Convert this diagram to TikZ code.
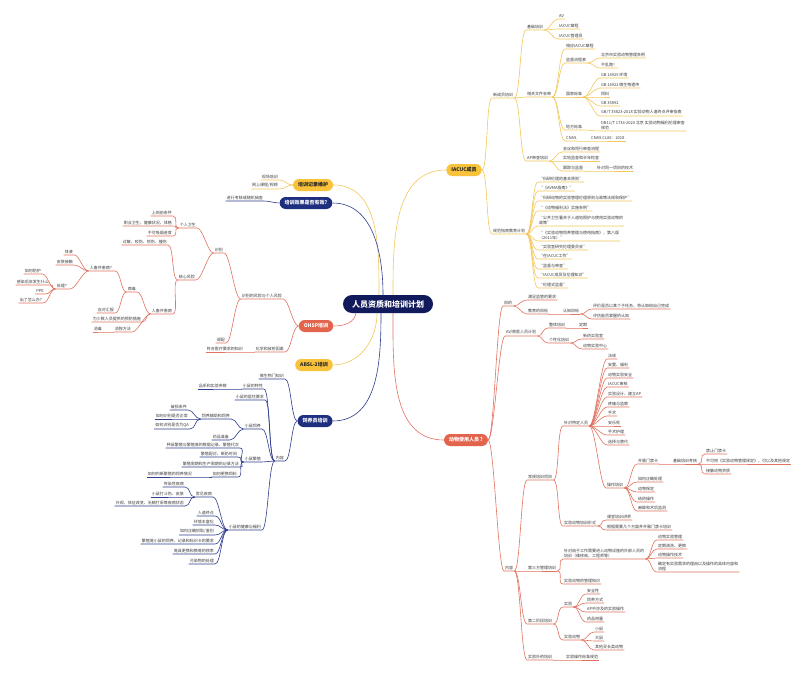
\documentclass[tikz,border=0pt]{standalone}
\usepackage{fontspec}
\setmainfont{Noto Sans CJK SC}
\definecolor{ylwfill}{HTML}{F8C23A}
\definecolor{ylwline}{HTML}{F4C85A}
\definecolor{navyfill}{HTML}{1F2F80}
\definecolor{navyline}{HTML}{2E3D8E}
\definecolor{rootfill}{HTML}{111A5A}
\definecolor{redfill}{HTML}{E3644D}
\definecolor{redline}{HTML}{E0725F}
\definecolor{txt}{HTML}{3A3A3A}
\tikzset{
  leaf/.style={font=\fontsize{4}{4.6}\selectfont, text=txt, inner xsep=1pt, inner ysep=1.2pt, align=left},
  R/.style={leaf, anchor=south west},
  L/.style={leaf, anchor=south east, align=right},
  pill/.style={rounded corners=6pt, inner xsep=5pt, minimum height=12pt, font=\fontsize{5}{6}\selectfont\bfseries},
  ypill/.style={pill, fill=ylwfill, text=black!85},
  npill/.style={pill, fill=navyfill, text=white},
  rpill/.style={pill, fill=redfill, text=white},
  rootnode/.style={rounded corners=9pt, fill=rootfill, text=white, minimum height=18pt, inner xsep=9pt, font=\fontsize{8}{9}\selectfont\bfseries},
  rb/.style={out=0, in=180, distance=6pt},
  lb/.style={out=180, in=0, distance=6pt},
  yl/.style={ylwline, line width=.6pt},
  nl/.style={navyline, line width=.6pt},
  rl/.style={redline, line width=.6pt},
}
\begin{document}
\begin{tikzpicture}[x=1pt, y=1pt]
  \fill[white] (0,0) rectangle (800,-677);
  \useasboundingbox (0,0) rectangle (800,-677);

  \node (root) at (388,-304) [rootnode] {人员资质和培训计划};

  % IACUC
  \node (iacuc) at (464,-170) [ypill] {IACUC成员};
  \node (xcy) at (492,-98) [R] {新成员培训};
  \node (jc) at (526,-30) [R] {基础培训};
  \node (av) at (558,-19) [R] {AV};
  \node (zc) at (558,-29) [R] {IACUC章程};
  \node (gly) at (558,-39) [R] {IACUC管理员};
  \node (wj) at (526,-97) [R] {相关文件会审};
  \node (xyzc) at (565,-49) [R] {相应IACUC章程};
  \node (lcb) at (565,-63) [R] {监督流程表};
  \node (bjtl) at (600,-58) [R] {北京市实验动物管理条例};
  \node (blp) at (600,-68) [R] {不乱跑！};
  \node (gjbz) at (565,-97) [R] {国家标准};
  \node (gba) at (600,-78) [R] {GB 14925 环境};
  \node (gbb) at (600,-88) [R] {GB 14922 微生物遗传};
  \node (sl) at (600,-97) [R] {饲料};
  \node (gbc) at (600,-106) [R] {GB 35892};
  \node (gbd) at (600,-116) [R] {GB/T 35823-2018 实验动物人道终点评审指南};
  \node (dfbz) at (565,-130) [R] {地方标准};
  \node (dbbz) at (600,-131) [R] {DB11/T 1734-2020 北京 实验动物福利伦理审查\\规范};
  \node (cnas) at (565,-141) [R] {CNAS};
  \node (cncl) at (590,-141) [R] {CNAS CL06：2018};
  \node (ap) at (526,-161) [R] {AP审查培训};
  \node (hysc) at (562,-152) [R] {会议和同行审查流程};
  \node (sdjc) at (562,-161) [R] {实地监查和半年检查};
  \node (gzjd) at (562,-171) [R] {跟踪与监督};
  \node (zdjs) at (596,-171) [R] {针对同一项目的技术};
  \node (gf) at (492,-234) [R] {规范指南教育计划};
  \node (ga) at (538,-182) [R] {“科研伦理的基本原则”};
  \node (gb) at (538,-191) [R] {“《AVMA指南》”};
  \node (gc) at (538,-201) [R] {“科研动物的实验管理伦理原则与政策法规和保护”};
  \node (gd) at (538,-211) [R] {“《动物福利法》实施条例”};
  \node (ge) at (538,-226) [R] {“公共卫生署关于人道地照护与使用实验动物的\\政策”};
  \node (gg) at (538,-241) [R] {“《实验动物饲养管理与使用指南》，第八版\\（2011年）”};
  \node (gh) at (538,-250) [R] {“实验室研究伦理委员会”};
  \node (gi) at (538,-259) [R] {“在IACUC工作”};
  \node (gj) at (538,-269) [R] {“监督与审查”};
  \node (gk) at (538,-278) [R] {“IACUC成员及伦理知识”};
  \node (gl) at (538,-288) [R] {“伦理式监督”};

  % animal users
  \node (dw) at (466,-440) [rpill] {动物使用人员 ?};
  \node (md) at (503,-306) [R] {目的};
  \node (jgyq) at (527,-300) [R] {满足监管的要求};
  \node (jymb) at (527,-314) [R] {教育的目标};
  \node (rzmb) at (562,-314) [R] {认知目标};
  \node (rza) at (592,-309) [R] {评价是否以某个子任务，将认知给自己完成};
  \node (rzb) at (592,-319) [R] {评估能否掌握的认知};
  \node (avjh) at (505,-336) [R] {AV/兽医人员计划};
  \node (ztpx) at (548,-328) [R] {整体培训};
  \node (dq) at (578,-328) [R] {定期};
  \node (gxpx) at (548,-343) [R] {个性化培训};
  \node (xysy) at (582,-339) [R] {新药实验室};
  \node (dwzx) at (582,-349) [R] {动物实验中心};
  \node (nr) at (504,-571) [R] {内容};
  \node (cgpx) at (527,-480) [R] {常规培训项目};
  \node (tdry) at (563,-426) [R] {针对特定人员};
  \node (fg) at (607,-359) [R] {法规};
  \node (azfl) at (607,-368) [R] {安置、福利};
  \node (syaq) at (607,-378) [R] {动物实验安全};
  \node (iash) at (607,-387) [R] {IACUC审核};
  \node (sysj) at (607,-397) [R] {实验设计、建立AP};
  \node (ttjc) at (607,-407) [R] {疼痛与监察};
  \node (ss) at (607,-416) [R] {手术};
  \node (als) at (607,-426) [R] {安乐死};
  \node (sshl) at (607,-435) [R] {手术护理};
  \node (xztd) at (607,-445) [R] {选择与替代};
  \node (czpx) at (606,-488) [R] {操作培训};
  \node (mjk) at (637,-464) [R] {开展门禁卡};
  \node (jckh) at (672,-464) [R] {基础培训考核};
  \node (jzmj) at (705,-454) [R] {禁止门禁卡};
  \node (bkgd) at (705,-464) [R] {不可用《实验动物管理规定》，可以及其他规定};
  \node (jczz) at (705,-474) [R] {接触动物资质};
  \node (zqcl) at (637,-482) [R] {如何正确处理};
  \node (dwbd) at (637,-492) [R] {动物保定};
  \node (gycz) at (637,-502) [R] {给药操作};
  \node (mzjc) at (637,-511) [R] {麻醉和术后监测};
  \node (pxxs) at (563,-526) [R] {实验动物培训形式};
  \node (ktjs) at (606,-520) [R] {课堂培训讲师};
  \node (gjxy) at (606,-530) [R] {根据需要几个方面并开展门禁卡培训};
  \node (dsf) at (527,-571) [R] {第三方管理培训};
  \node (wbry) at (563,-559) [R] {针对由于工作需要进入动物设施的外部人员的\\培训（维修商、工程师等）};
  \node (sygl) at (657,-540) [R] {动物实验管理};
  \node (dqqx) at (657,-549) [R] {定期清洗、更换};
  \node (czjs) at (657,-558) [R] {动物操作技术};
  \node (sylc) at (657,-572) [R] {确定有实验需求的理由以及操作的具体内容和\\流程};
  \node (glzs) at (563,-584) [R] {实验动物的管理知识};
  \node (dejd) at (527,-624) [R] {第二阶段培训};
  \node (sy) at (563,-607) [R] {实验};
  \node (aqx) at (586,-594) [R] {安全性};
  \node (syfs) at (586,-603) [R] {饲养方式};
  \node (apcz) at (586,-612) [R] {AP中涉及的实验操作};
  \node (yply) at (586,-622) [R] {药品用量};
  \node (sydw) at (563,-640) [R] {实验动物};
  \node (xs) at (594,-632) [R] {小鼠};
  \node (ds) at (594,-641) [R] {大鼠};
  \node (qt) at (594,-650) [R] {其他灵长类动物};
  \node (swpx) at (527,-660) [R] {实验外的培训};
  \node (czgf) at (565,-660) [R] {实验操作标准规范};

  % records, effect
  \node (jlwh) at (313,-185) [ypill] {培训记录维护};
  \node (xcpx) at (279,-180) [L] {现场培训};
  \node (wskc) at (279,-189) [L] {网上课程/视频};
  \node (xgyx) at (306,-203) [npill] {培训效果是否有效?};
  \node (khcc) at (264,-201) [L] {进行考核或随机抽查};

  % OHSP
  \node (ohsp) at (316,-326) [rpill] {OHSP培训};
  \node (fxsb) at (283,-299) [L] {识别的风险与个人风险};
  \node (sb) at (224,-253) [L] {识别};
  \node (grws) at (197,-228) [L] {个人卫生};
  \node (sgtj) at (173,-216) [L] {上岗前条件};
  \node (zyws) at (173,-226) [L] {职业卫生、健康状况、体格};
  \node (bkxy) at (173,-236) [L] {不可吸烟进食};
  \node (hxfx) at (196,-280) [L] {核心风险};
  \node (gmys) at (168,-245) [L] {过敏、咬伤、抓伤、撞伤};
  \node (rcgh) at (173,-314) [L] {人畜共患病};
  \node (bdu) at (137,-292) [L] {病毒};
  \node (rcgw) at (115,-271) [L] {人畜共患病？};
  \node (tiye) at (74,-255) [L] {体液};
  \node (pfjc) at (74,-265) [L] {皮肤接触};
  \node (rhcl) at (70,-289) [L] {处理？};
  \node (rhfh) at (42,-274) [L] {如何防护};
  \node (grhf) at (50,-285) [L] {感染后会发生什么};
  \node (ppe) at (45,-294) [L] {PPE};
  \node (clzm) at (43,-303) [L] {出了怎么办?};
  \node (ydhb) at (115,-313) [L] {应对汇报};
  \node (yfcs) at (142,-322) [L] {为少数人员提供的预防措施};
  \node (xcff) at (132,-332) [L] {消除方法};
  \node (xdu) at (103,-332) [L] {消毒};
  \node (tiaopei) at (226,-343) [L] {调配};
  \node (hxfs) at (285,-352) [L] {化学和放射因素};
  \node (ylzs) at (244,-352) [L] {符合医疗要求的知识};

  \node (absl) at (314,-365) [ypill] {ABSL-2培训};

  % keepers
  \node (syy) at (315,-421) [npill] {饲养员培训};
  \node (wswz) at (285,-379) [L] {微生物门知识};
  \node (nrb) at (285,-461) [L] {内容};
  \node (xstx) at (264,-389) [L] {小鼠的特性};
  \node (pxcs) at (228,-389) [L] {品系和实验参数};
  \node (jzyq) at (265,-400) [L] {小鼠的居住要求};
  \node (xssy) at (262,-429) [L] {小鼠饲养};
  \node (fzsy) at (231,-419) [L] {饲养辅助和饲养};
  \node (psjt) at (188,-410) [L] {破损条件};
  \node (sfzc) at (189,-419) [L] {如何识别是否正常};
  \node (sfqa) at (190,-429) [L] {如何识别是否为QA};
  \node (ypzb) at (230,-440) [L] {药品准备};
  \node (xsfz) at (262,-462) [L] {小鼠繁殖};
  \node (fza) at (240,-448) [L] {种鼠繁殖与繁殖笼的数据记录、繁殖代次};
  \node (fzb) at (238,-457) [L] {繁殖配对、断奶时间};
  \node (fzc) at (240,-467) [L] {繁殖周期和生产周期的记录方法};
  \node (ghsl) at (238,-477) [L] {如何更换饲料};
  \node (pdfz) at (193,-477) [L] {如何判断繁殖的饲养情况};
  \node (jkfl) at (262,-530) [L] {小鼠的健康与福利};
  \node (cjjb) at (213,-497) [L] {常见疾病};
  \node (crjb) at (185,-487) [L] {传染性疾病};
  \node (ddsh) at (185,-497) [L] {小鼠打斗伤、皮肤};
  \node (wgtz) at (185,-506) [L] {外观、体征改变、无精打采等疾病状态};
  \node (rdzd) at (215,-516) [L] {人道终点};
  \node (hjfh) at (215,-525) [L] {环境丰富化};
  \node (zqzq) at (215,-535) [L] {如何正确抓取/鉴别};
  \node (fzsyq) at (215,-544) [L] {繁殖笼小鼠的饲养、记录和标识卡的要求};
  \node (ljgh) at (215,-554) [L] {笼具更换和换笼的频率};
  \node (wrcl) at (215,-564) [L] {污染物的处理};

  % from the centre
  \draw[yl] ([xshift=5pt]root.north) to[out=90, in=180] (iacuc.west);
  \draw[rl] ([xshift=5pt]root.south) to[out=-90, in=180] (dw.west);
  \draw[yl] ([xshift=-9pt]root.north) to[out=90, in=0] (jlwh.east);
  \draw[nl] ([xshift=-5pt]root.north) to[out=90, in=0] (xgyx.east);
  \draw[rl] ([xshift=-32pt]root.south) to[out=-100, in=0] (ohsp.east);
  \draw[yl] ([xshift=-11pt]root.south) to[out=-90, in=0] (absl.east);
  \draw[nl] ([xshift=-7pt]root.south) to[out=-90, in=0] (syy.east);

  % IACUC branch
  \draw[yl] (iacuc.east) to[rb] (xcy.south west) -- (xcy.south east);
  \draw[yl] (iacuc.east) to[rb] (gf.south west) -- (gf.south east);
  \draw[yl] (xcy.south east) to[rb] (jc.south west) -- (jc.south east);
  \draw[yl] (xcy.south east) to[rb] (wj.south west) -- (wj.south east);
  \draw[yl] (xcy.south east) to[rb] (ap.south west) -- (ap.south east);
  \draw[yl] (jc.south east) to[rb] (av.south west) -- (av.south east);
  \draw[yl] (jc.south east) to[rb] (zc.south west) -- (zc.south east);
  \draw[yl] (jc.south east) to[rb] (gly.south west) -- (gly.south east);
  \draw[yl] (wj.south east) to[rb] (xyzc.south west) -- (xyzc.south east);
  \draw[yl] (wj.south east) to[rb] (lcb.south west) -- (lcb.south east);
  \draw[yl] (wj.south east) to[rb] (gjbz.south west) -- (gjbz.south east);
  \draw[yl] (wj.south east) to[rb] (dfbz.south west) -- (dfbz.south east);
  \draw[yl] (wj.south east) to[rb] (cnas.south west) -- (cnas.south east);
  \draw[yl] (lcb.south east) to[rb] (bjtl.south west) -- (bjtl.south east);
  \draw[yl] (lcb.south east) to[rb] (blp.south west) -- (blp.south east);
  \draw[yl] (gjbz.south east) to[rb] (gba.south west) -- (gba.south east);
  \draw[yl] (gjbz.south east) to[rb] (gbb.south west) -- (gbb.south east);
  \draw[yl] (gjbz.south east) to[rb] (sl.south west) -- (sl.south east);
  \draw[yl] (gjbz.south east) to[rb] (gbc.south west) -- (gbc.south east);
  \draw[yl] (gjbz.south east) to[rb] (gbd.south west) -- (gbd.south east);
  \draw[yl] (dfbz.south east) to[rb] (dbbz.south west) -- (dbbz.south east);
  \draw[yl] (cnas.south east) to[rb] (cncl.south west) -- (cncl.south east);
  \draw[yl] (ap.south east) to[rb] (hysc.south west) -- (hysc.south east);
  \draw[yl] (ap.south east) to[rb] (sdjc.south west) -- (sdjc.south east);
  \draw[yl] (ap.south east) to[rb] (gzjd.south west) -- (gzjd.south east);
  \draw[yl] (gzjd.south east) to[rb] (zdjs.south west) -- (zdjs.south east);
  \draw[yl] (gf.south east) to[rb] (ga.south west) -- (ga.south east);
  \draw[yl] (gf.south east) to[rb] (gb.south west) -- (gb.south east);
  \draw[yl] (gf.south east) to[rb] (gc.south west) -- (gc.south east);
  \draw[yl] (gf.south east) to[rb] (gd.south west) -- (gd.south east);
  \draw[yl] (gf.south east) to[rb] (ge.south west) -- (ge.south east);
  \draw[yl] (gf.south east) to[rb] (gg.south west) -- (gg.south east);
  \draw[yl] (gf.south east) to[rb] (gh.south west) -- (gh.south east);
  \draw[yl] (gf.south east) to[rb] (gi.south west) -- (gi.south east);
  \draw[yl] (gf.south east) to[rb] (gj.south west) -- (gj.south east);
  \draw[yl] (gf.south east) to[rb] (gk.south west) -- (gk.south east);
  \draw[yl] (gf.south east) to[rb] (gl.south west) -- (gl.south east);

  % animal users branch
  \draw[rl] (dw.east) to[rb] (md.south west) -- (md.south east);
  \draw[rl] (dw.east) to[rb] (avjh.south west) -- (avjh.south east);
  \draw[rl] (dw.east) to[rb] (nr.south west) -- (nr.south east);
  \draw[rl] (md.south east) to[rb] (jgyq.south west) -- (jgyq.south east);
  \draw[rl] (md.south east) to[rb] (jymb.south west) -- (jymb.south east);
  \draw[rl] (jymb.south east) to[rb] (rzmb.south west) -- (rzmb.south east);
  \draw[rl] (rzmb.south east) to[rb] (rza.south west) -- (rza.south east);
  \draw[rl] (rzmb.south east) to[rb] (rzb.south west) -- (rzb.south east);
  \draw[rl] (avjh.south east) to[rb] (ztpx.south west) -- (ztpx.south east);
  \draw[rl] (avjh.south east) to[rb] (gxpx.south west) -- (gxpx.south east);
  \draw[rl] (ztpx.south east) to[rb] (dq.south west) -- (dq.south east);
  \draw[rl] (gxpx.south east) to[rb] (xysy.south west) -- (xysy.south east);
  \draw[rl] (gxpx.south east) to[rb] (dwzx.south west) -- (dwzx.south east);
  \draw[rl] (nr.south east) to[rb] (cgpx.south west) -- (cgpx.south east);
  \draw[rl] (nr.south east) to[rb] (dsf.south west) -- (dsf.south east);
  \draw[rl] (nr.south east) to[rb] (dejd.south west) -- (dejd.south east);
  \draw[rl] (nr.south east) to[rb] (swpx.south west) -- (swpx.south east);
  \draw[rl] (cgpx.south east) to[rb] (tdry.south west) -- (tdry.south east);
  \draw[rl] (cgpx.south east) to[rb] (pxxs.south west) -- (pxxs.south east);
  \draw[rl] (tdry.south east) to[rb] (fg.south west) -- (fg.south east);
  \draw[rl] (tdry.south east) to[rb] (azfl.south west) -- (azfl.south east);
  \draw[rl] (tdry.south east) to[rb] (syaq.south west) -- (syaq.south east);
  \draw[rl] (tdry.south east) to[rb] (iash.south west) -- (iash.south east);
  \draw[rl] (tdry.south east) to[rb] (sysj.south west) -- (sysj.south east);
  \draw[rl] (tdry.south east) to[rb] (ttjc.south west) -- (ttjc.south east);
  \draw[rl] (tdry.south east) to[rb] (ss.south west) -- (ss.south east);
  \draw[rl] (tdry.south east) to[rb] (als.south west) -- (als.south east);
  \draw[rl] (tdry.south east) to[rb] (sshl.south west) -- (sshl.south east);
  \draw[rl] (tdry.south east) to[rb] (xztd.south west) -- (xztd.south east);
  \draw[rl] (tdry.south east) to[rb] (czpx.south west) -- (czpx.south east);
  \draw[rl] (czpx.south east) to[rb] (mjk.south west) -- (mjk.south east);
  \draw[rl] (czpx.south east) to[rb] (zqcl.south west) -- (zqcl.south east);
  \draw[rl] (czpx.south east) to[rb] (dwbd.south west) -- (dwbd.south east);
  \draw[rl] (czpx.south east) to[rb] (gycz.south west) -- (gycz.south east);
  \draw[rl] (czpx.south east) to[rb] (mzjc.south west) -- (mzjc.south east);
  \draw[rl] (mjk.south east) to[rb] (jckh.south west) -- (jckh.south east);
  \draw[rl] (jckh.south east) to[rb] (jzmj.south west) -- (jzmj.south east);
  \draw[rl] (jckh.south east) to[rb] (bkgd.south west) -- (bkgd.south east);
  \draw[rl] (jckh.south east) to[rb] (jczz.south west) -- (jczz.south east);
  \draw[rl] (pxxs.south east) to[rb] (ktjs.south west) -- (ktjs.south east);
  \draw[rl] (pxxs.south east) to[rb] (gjxy.south west) -- (gjxy.south east);
  \draw[rl] (dsf.south east) to[rb] (wbry.south west) -- (wbry.south east);
  \draw[rl] (dsf.south east) to[rb] (glzs.south west) -- (glzs.south east);
  \draw[rl] (wbry.south east) to[rb] (sygl.south west) -- (sygl.south east);
  \draw[rl] (wbry.south east) to[rb] (dqqx.south west) -- (dqqx.south east);
  \draw[rl] (wbry.south east) to[rb] (czjs.south west) -- (czjs.south east);
  \draw[rl] (wbry.south east) to[rb] (sylc.south west) -- (sylc.south east);
  \draw[rl] (dejd.south east) to[rb] (sy.south west) -- (sy.south east);
  \draw[rl] (dejd.south east) to[rb] (sydw.south west) -- (sydw.south east);
  \draw[rl] (sy.south east) to[rb] (aqx.south west) -- (aqx.south east);
  \draw[rl] (sy.south east) to[rb] (syfs.south west) -- (syfs.south east);
  \draw[rl] (sy.south east) to[rb] (apcz.south west) -- (apcz.south east);
  \draw[rl] (sy.south east) to[rb] (yply.south west) -- (yply.south east);
  \draw[rl] (sydw.south east) to[rb] (xs.south west) -- (xs.south east);
  \draw[rl] (sydw.south east) to[rb] (ds.south west) -- (ds.south east);
  \draw[rl] (sydw.south east) to[rb] (qt.south west) -- (qt.south east);
  \draw[rl] (swpx.south east) to[rb] (czgf.south west) -- (czgf.south east);

  % records, effect branches
  \draw[yl] (jlwh.west) to[lb] (xcpx.south east) -- (xcpx.south west);
  \draw[yl] (jlwh.west) to[lb] (wskc.south east) -- (wskc.south west);
  \draw[nl] (xgyx.west) to[lb] (khcc.south east) -- (khcc.south west);

  % OHSP branch
  \draw[rl] (ohsp.west) to[lb] (fxsb.south east) -- (fxsb.south west);
  \draw[rl] (ohsp.west) to[lb] (hxfs.south east) -- (hxfs.south west);
  \draw[rl] (fxsb.south west) to[lb] (sb.south east) -- (sb.south west);
  \draw[rl] (fxsb.south west) to[lb] (tiaopei.south east) -- (tiaopei.south west);
  \draw[rl] (sb.south west) to[lb] (grws.south east) -- (grws.south west);
  \draw[rl] (sb.south west) to[lb] (hxfx.south east) -- (hxfx.south west);
  \draw[rl] (grws.south west) to[lb] (sgtj.south east) -- (sgtj.south west);
  \draw[rl] (grws.south west) to[lb] (zyws.south east) -- (zyws.south west);
  \draw[rl] (grws.south west) to[lb] (bkxy.south east) -- (bkxy.south west);
  \draw[rl] (hxfx.south west) to[lb] (gmys.south east) -- (gmys.south west);
  \draw[rl] (hxfx.south west) to[lb] (rcgh.south east) -- (rcgh.south west);
  \draw[rl] (rcgh.south west) to[lb] (bdu.south east) -- (bdu.south west);
  \draw[rl] (rcgh.south west) to[lb] (yfcs.south east) -- (yfcs.south west);
  \draw[rl] (rcgh.south west) to[lb] (xcff.south east) -- (xcff.south west);
  \draw[rl] (xcff.south west) to[lb] (xdu.south east) -- (xdu.south west);
  \draw[rl] (bdu.south west) to[lb] (rcgw.south east) -- (rcgw.south west);
  \draw[rl] (bdu.south west) to[lb] (ydhb.south east) -- (ydhb.south west);
  \draw[rl] (rcgw.south west) to[lb] (tiye.south east) -- (tiye.south west);
  \draw[rl] (rcgw.south west) to[lb] (pfjc.south east) -- (pfjc.south west);
  \draw[rl] (rcgw.south west) to[lb] (rhcl.south east) -- (rhcl.south west);
  \draw[rl] (rhcl.south west) to[lb] (rhfh.south east) -- (rhfh.south west);
  \draw[rl] (rhcl.south west) to[lb] (grhf.south east) -- (grhf.south west);
  \draw[rl] (rhcl.south west) to[lb] (ppe.south east) -- (ppe.south west);
  \draw[rl] (rhcl.south west) to[lb] (clzm.south east) -- (clzm.south west);
  \draw[rl] (hxfs.south west) to[lb] (ylzs.south east) -- (ylzs.south west);

  % keepers branch
  \draw[nl] (syy.west) to[lb] (wswz.south east) -- (wswz.south west);
  \draw[nl] (syy.west) to[lb] (nrb.south east) -- (nrb.south west);
  \draw[nl] (nrb.south west) to[lb] (xstx.south east) -- (xstx.south west);
  \draw[nl] (nrb.south west) to[lb] (jzyq.south east) -- (jzyq.south west);
  \draw[nl] (nrb.south west) to[lb] (xssy.south east) -- (xssy.south west);
  \draw[nl] (nrb.south west) to[lb] (xsfz.south east) -- (xsfz.south west);
  \draw[nl] (nrb.south west) to[lb] (jkfl.south east) -- (jkfl.south west);
  \draw[nl] (xstx.south west) to[lb] (pxcs.south east) -- (pxcs.south west);
  \draw[nl] (xssy.south west) to[lb] (fzsy.south east) -- (fzsy.south west);
  \draw[nl] (xssy.south west) to[lb] (ypzb.south east) -- (ypzb.south west);
  \draw[nl] (fzsy.south west) to[lb] (psjt.south east) -- (psjt.south west);
  \draw[nl] (fzsy.south west) to[lb] (sfzc.south east) -- (sfzc.south west);
  \draw[nl] (fzsy.south west) to[lb] (sfqa.south east) -- (sfqa.south west);
  \draw[nl] (xsfz.south west) to[lb] (fza.south east) -- (fza.south west);
  \draw[nl] (xsfz.south west) to[lb] (fzb.south east) -- (fzb.south west);
  \draw[nl] (xsfz.south west) to[lb] (fzc.south east) -- (fzc.south west);
  \draw[nl] (xsfz.south west) to[lb] (ghsl.south east) -- (ghsl.south west);
  \draw[nl] (ghsl.south west) to[lb] (pdfz.south east) -- (pdfz.south west);
  \draw[nl] (jkfl.south west) to[lb] (cjjb.south east) -- (cjjb.south west);
  \draw[nl] (jkfl.south west) to[lb] (rdzd.south east) -- (rdzd.south west);
  \draw[nl] (jkfl.south west) to[lb] (hjfh.south east) -- (hjfh.south west);
  \draw[nl] (jkfl.south west) to[lb] (zqzq.south east) -- (zqzq.south west);
  \draw[nl] (jkfl.south west) to[lb] (fzsyq.south east) -- (fzsyq.south west);
  \draw[nl] (jkfl.south west) to[lb] (ljgh.south east) -- (ljgh.south west);
  \draw[nl] (jkfl.south west) to[lb] (wrcl.south east) -- (wrcl.south west);
  \draw[nl] (cjjb.south west) to[lb] (crjb.south east) -- (crjb.south west);
  \draw[nl] (cjjb.south west) to[lb] (ddsh.south east) -- (ddsh.south west);
  \draw[nl] (cjjb.south west) to[lb] (wgtz.south east) -- (wgtz.south west);
\end{tikzpicture}
\end{document}
